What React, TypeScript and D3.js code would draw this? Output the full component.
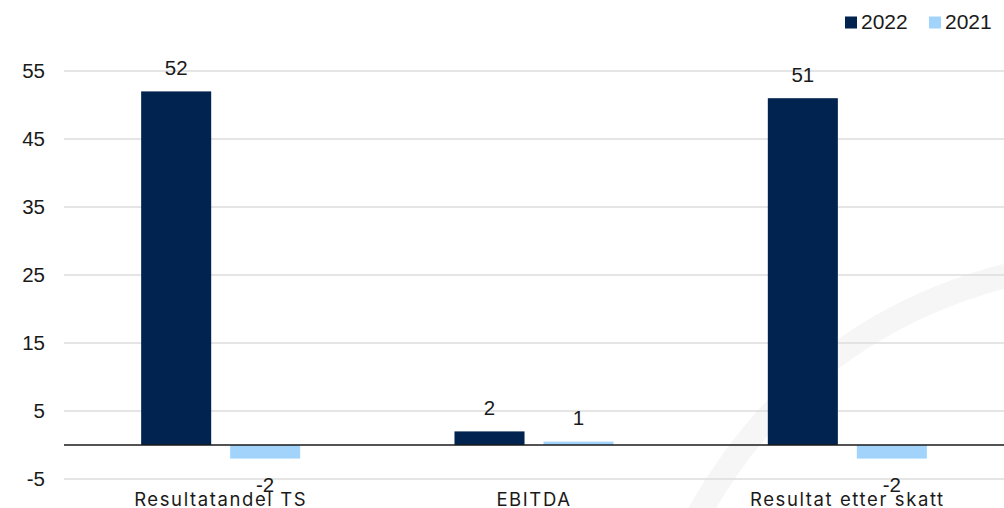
import React from "react";
import * as d3 from "d3";

const categories = ["Resultatandel TS", "EBITDA", "Resultat etter skatt"];
const seriesNames = ["2022", "2021"];
const values2022 = [52, 2, 51];
const values2021 = [-2, 0.5, -2];
const yTicks = [55, 45, 35, 25, 15, 5, -5];
const colors = ["#00234f", "#a2d4fb"];

const W = 1004;
const H = 508;
const NUMFONT = "'Liberation Sans', Arial, sans-serif";
const CATFONT = "Inter, 'Noto Sans', sans-serif";

export default function App() {
  const y = d3.scaleLinear().domain([-5, 55]).range([479, 71]);
  const x0 = d3.scaleBand<string>().domain(categories).range([64, 1004]);
  const x1 = d3
    .scaleBand<string>()
    .domain(seriesNames)
    .range([0, x0.bandwidth()])
    .paddingInner(0.213)
    .paddingOuter(0.867);
  const seriesData = [values2022, values2021];

  const arc = d3.path();
  arc.moveTo(690, 530);
  arc.quadraticCurveTo(800, 320, 1030, 270);

  return (
    <svg
      width={W}
      height={H}
      style={{ position: "absolute", left: 0, top: 0, background: "#fff" }}
      fontFamily={NUMFONT}
    >
      <path d={arc.toString()} fill="none" stroke="#f6f6f6" strokeWidth={24} />
      {yTicks.map((t) => (
        <g key={t}>
          <line x1={64} x2={1004} y1={y(t)} y2={y(t)} stroke="#dcdcdc" strokeWidth={1.5} />
          <text x={45} y={y(t) + 7} textAnchor="end" fontSize={20.5} fill="#1a1a1a">
            {t}
          </text>
        </g>
      ))}
      {categories.map((c, ci) => (
        <g key={c} transform={`translate(${x0(c)},0)`}>
          {seriesNames.map((s, si) => {
            const v = seriesData[si][ci];
            const top = y(Math.max(0, v));
            const bot = y(Math.min(0, v));
            const bx = x1(s) as number;
            const cx = bx + x1.bandwidth() / 2;
            const ly = v >= 0 ? top - 16.5 : bot + 33;
            return (
              <g key={s}>
                <rect x={bx} y={top} width={x1.bandwidth()} height={bot - top} fill={colors[si]} />
                <text x={cx} y={ly} textAnchor="middle" fontSize={20.5} fill="#1a1a1a">
                  {Math.round(v)}
                </text>
              </g>
            );
          })}
          <text
            x={x0.bandwidth() / 2}
            y={506}
            textAnchor="middle"
            fontSize={18.5}
            letterSpacing={1.6}
            fontFamily={CATFONT}
            fill="#1a1a1a"
          >
            {c}
          </text>
        </g>
      ))}
      <line x1={64} x2={1004} y1={y(0)} y2={y(0)} stroke="#1a1a1a" strokeWidth={1.5} />
      {seriesNames.map((s, i) => {
        const lx = [845, 929][i];
        return (
          <g key={s}>
            <rect x={lx} y={16.5} width={12} height={12} fill={colors[i]} />
            <text x={lx + 16} y={28.5} fontSize={21} fill="#1a1a1a">
              {s}
            </text>
          </g>
        );
      })}
    </svg>
  );
}
